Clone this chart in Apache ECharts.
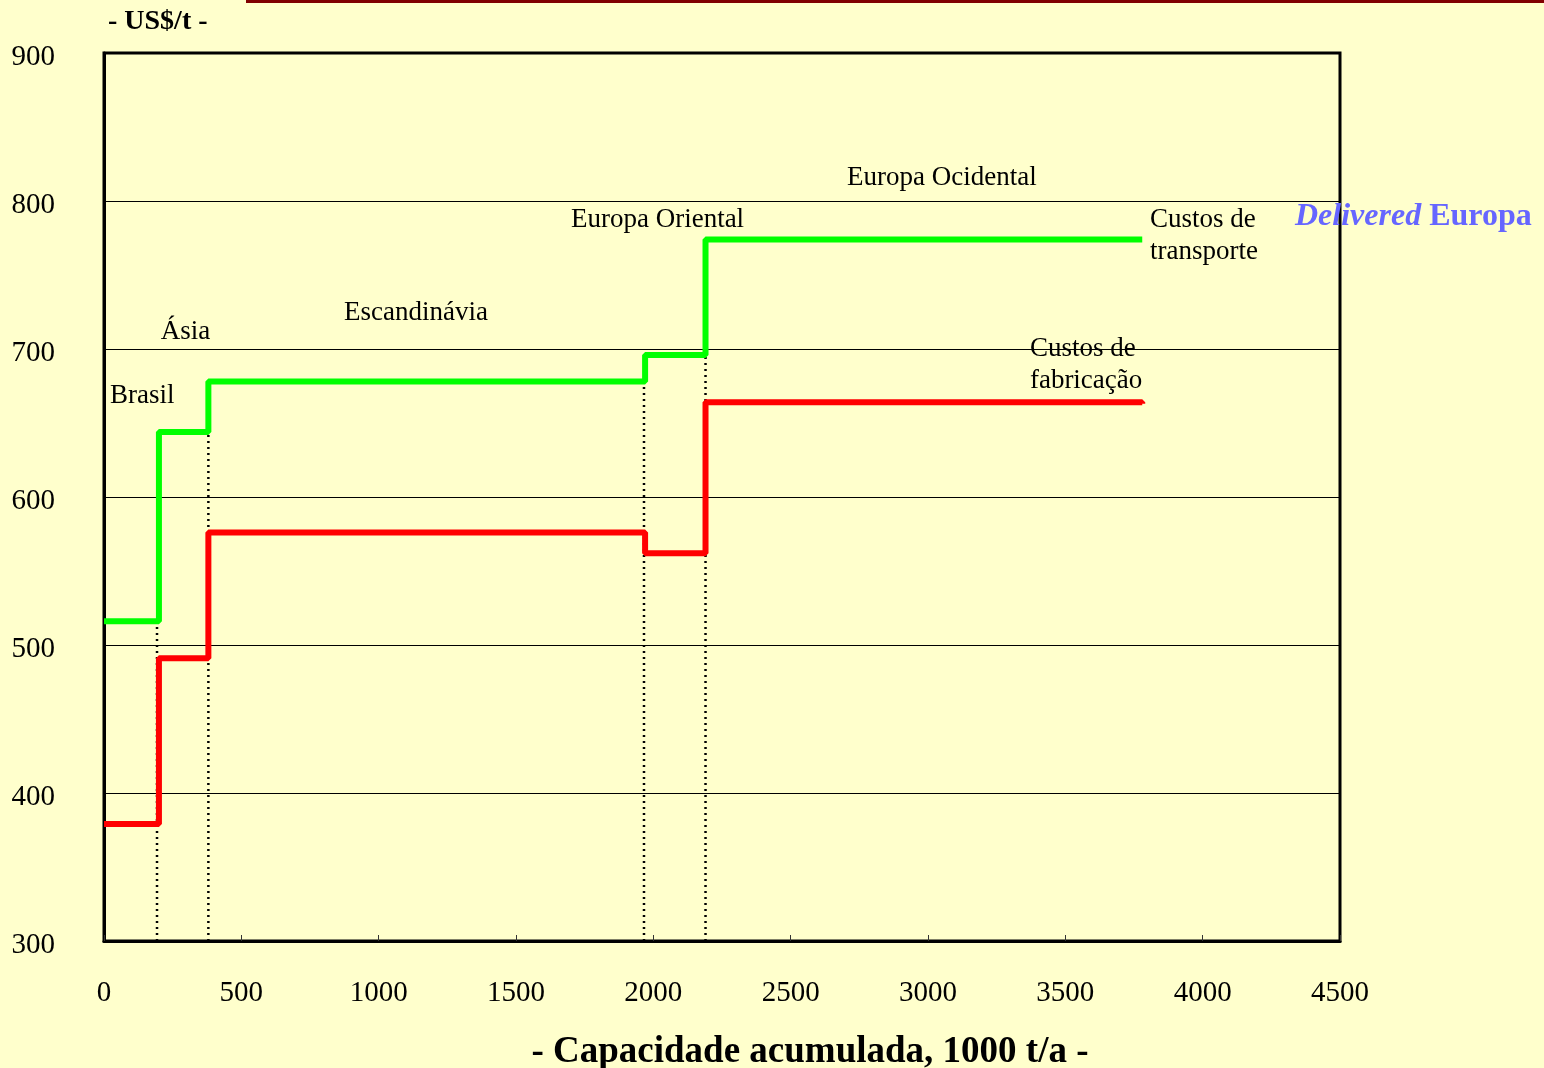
<!DOCTYPE html>
<html>
<head>
<meta charset="utf-8">
<script src="https://cdn.jsdelivr.net/npm/echarts@6/dist/echarts.min.js"></script>
<style>
  html, body { margin: 0; padding: 0; background: #ffffcc; }
  #chart { width: 1544px; height: 1068px; }
</style>
</head>
<body>
<div id="chart"></div>
<script>
// 运输+制造总成本（绿色）
let transportX = [0, 200, 380, 1970, 2190, 3780];
let transportY = [516, 644, 678, 696, 774, 774];
// 制造成本（红色）
let fabricX = [0, 200, 380, 1970, 2190, 3780];
let fabricY = [379, 491, 576, 562, 664, 663];
// 虚线分隔
let dropX = [193, 380, 1966, 2190];
let dropTop = [516, 644, 678, 696];
// 区域标注
let regionNames = ["Brasil", "Ásia", "Escandinávia", "Europa Oriental", "Europa Ocidental",
  "Custos de\ntransporte", "Custos de\nfabricação"];
let regionX = [22, 207, 874, 1700, 2705, 3808, 3371];
let regionY = [668, 711.5, 724.5, 787.5, 815.5, 776.5, 689];

let serif = "'Liberation Serif', 'Times New Roman', serif";

function pairs(xs, ys) {
  return xs.map(function (x, i) { return [x, ys[i]]; });
}

let series = [];
// 虚线
dropX.forEach(function (x, i) {
  series.push({
    type: "line",
    data: [[x, 300], [x, dropTop[i]]],
    symbol: "none",
    silent: true,
    lineStyle: { color: "#000", width: 2.5, type: [2, 4] },
    z: 2
  });
});
series.push({
  name: "Custos de fabricação",
  type: "line",
  step: "end",
  data: pairs(fabricX, fabricY),
  symbol: "none",
  lineStyle: { color: "#ff0000", width: 6 },
  z: 3
});
series.push({
  name: "Custos de transporte",
  type: "line",
  step: "end",
  data: pairs(transportX, transportY),
  symbol: "none",
  lineStyle: { color: "#00ff00", width: 6 },
  z: 3
});
// 文字标注
series.push({
  type: "scatter",
  symbolSize: 0,
  silent: true,
  data: regionNames.map(function (n, i) { return { name: n, value: [regionX[i], regionY[i]] }; }),
  label: {
    show: true,
    position: "right",
    distance: 0,
    formatter: "{b}",
    color: "#000",
    opacity: 1,
    fontFamily: serif,
    fontSize: 27,
    lineHeight: 32,
    align: "left",
    verticalAlign: "middle"
  },
  z: 5
});

let myChart = echarts.init(document.getElementById("chart"));
let option = {
  backgroundColor: "#ffffcc",
  animation: false,
  grid: {
    left: 104,
    right: 204,
    top: 53,
    bottom: 127,
    outerBoundsMode: "none",
    containLabel: false,
    show: true,
    borderColor: "#000",
    borderWidth: 3,
    backgroundColor: "transparent"
  },
  xAxis: {
    type: "value",
    min: 0,
    max: 4500,
    interval: 500,
    name: "- Capacidade acumulada, 1000 t/a -",
    nameLocation: "middle",
    nameGap: 93,
    nameTextStyle: { fontFamily: serif, fontSize: 37, fontWeight: "bold", color: "#000",
      padding: [0, 0, 0, 176] },
    axisLine: { lineStyle: { color: "#000", width: 3 } },
    axisTick: { inside: true, length: 6, lineStyle: { color: "#333", width: 1 } },
    axisLabel: { fontFamily: serif, fontSize: 29, color: "#000", margin: 38,
      formatter: function (v) { return String(v); } },
    splitLine: { show: false }
  },
  yAxis: {
    type: "value",
    min: 300,
    max: 900,
    interval: 100,
    name: "- US$/t -",
    nameLocation: "end",
    nameGap: 31,
    nameTextStyle: { fontFamily: serif, fontSize: 28, fontWeight: "bold", color: "#000",
      align: "left", verticalAlign: "middle", padding: [0, 0, 0, 4] },
    axisLine: { lineStyle: { color: "#000", width: 3 } },
    axisTick: { show: false },
    axisLabel: { fontFamily: serif, fontSize: 29, color: "#000", margin: 49,
      verticalAlign: "top", lineHeight: 8,
      formatter: function (v) { return String(v); } },
    splitLine: { lineStyle: { color: "#000", width: 1 } }
  },
  graphic: [
    {
      type: "rect",
      left: 246,
      top: 0,
      shape: { width: 1298, height: 3 },
      style: { fill: "#800000" }
    },
    {
      type: "text",
      left: 1295,
      top: 201,
      style: {
        text: "{i|Delivered }{b|Europa}",
        rich: {
          i: { fontFamily: serif, fontSize: 32, fontWeight: "bold", fontStyle: "italic", fill: "#6666ff" },
          b: { fontFamily: serif, fontSize: 32, fontWeight: "bold", fill: "#6666ff" }
        }
      },
      z: 10
    }
  ],
  series: series
};
myChart.setOption(option);
</script>
</body>
</html>
